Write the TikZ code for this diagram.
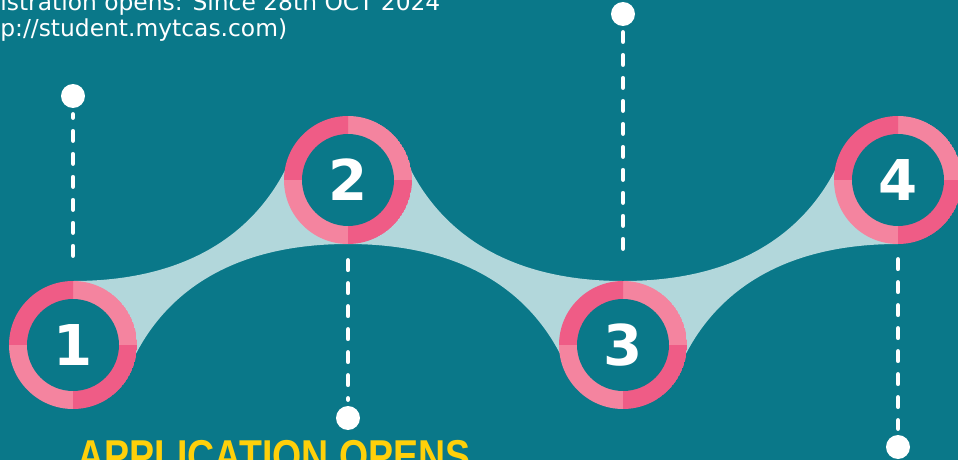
\documentclass[tikz,border=0pt]{standalone}
\usepackage{fontspec}
\setmainfont{DejaVu Sans}
\newfontfamily\headfont{Liberation Sans}
\usetikzlibrary{positioning}

\definecolor{bgteal}{HTML}{0A7889}
\definecolor{bandblue}{HTML}{B2D7DB}
\definecolor{pinkdark}{HTML}{EF5C86}
\definecolor{pinklight}{HTML}{F4849F}
\definecolor{headyellow}{HTML}{FFD00A}

\tikzset{
  stepring/.style={circle, minimum size=2.56cm, inner sep=0pt, text=white,
    font=\bfseries\fontsize{32}{32}\selectfont,
    path picture={
      \foreach \a/\qc in {0/pinklight,90/pinkdark,180/pinklight,270/pinkdark}
        \fill[\qc] (path picture bounding box.center) -- ++(\a:1.28cm)
          arc[start angle=\a, delta angle=90, radius=1.28cm] -- cycle;
      \fill[bgteal] (path picture bounding box.center) circle[radius=0.92cm];
    }},
  enddot/.style={circle, fill=white, minimum size=0.48cm, inner sep=0pt},
  dashline/.style={draw=white, line width=0.09cm, line cap=round,
    dash pattern=on 0.19cm off 0.27cm, shorten >=0.12cm},
  band/.style={fill=bandblue},
  infotext/.style={text=white, inner sep=0pt, anchor=base west,
    font=\fontsize{13.3}{16}\selectfont},
  headline/.style={text=headyellow, inner sep=0pt, anchor=north west,
    font=\headfont\bfseries\fontsize{25.4}{28}\selectfont}
}

\begin{document}
\begin{tikzpicture}[x=0.02cm, y=-0.02cm]
    % Background
    \fill[bgteal] (0,0) rectangle (958,460);
    \useasboundingbox (0,0) rectangle (958,460);

    % Wave band between the steps
    \fill[band] (73,281) .. controls (200,281) and (262,222) .. (290,160)
        -- (348,180) -- (348,244) .. controls (221,244) and (159,302) .. (131,364)
        -- (73,345) -- cycle;
    \fill[band] (623,281) .. controls (496,281) and (434,222) .. (406,160)
        -- (348,180) -- (348,244) .. controls (475,244) and (537,302) .. (565,364)
        -- (623,345) -- cycle;
    \fill[band] (623,281) .. controls (750,281) and (812,222) .. (840,160)
        -- (898,180) -- (898,244) .. controls (771,244) and (709,302) .. (681,364)
        -- (623,345) -- cycle;

    % Steps
    \foreach \i/\p in {1/{73,345},2/{348,180},3/{623,345},4/{898,180}}
        \node[stepring] (s\i) at (\p) {\i};

    % End dots
    \foreach \i/\p in {1/{73,96},2/{348,418},3/{623,14},4/{898,447}}
        \node[enddot] (d\i) at (\p) {};

    % Dashed leaders
    \foreach \i/\g in {1/0.5cm,2/0.32cm,3/0.64cm,4/0.3cm}
        \draw[dashline, shorten <=\g] (s\i) -- (d\i);

    % Texts
    \node[infotext] (reg) at (0,10) {istration opens: Since 28th OCT 2024};
    \node[infotext] (url) at (0,36) {p://student.mytcas.com)};
    \node[headline] (apply) at (77,440) {\scalebox{0.84}[1]{APPLICATION OPENS}};
\end{tikzpicture}
\end{document}
